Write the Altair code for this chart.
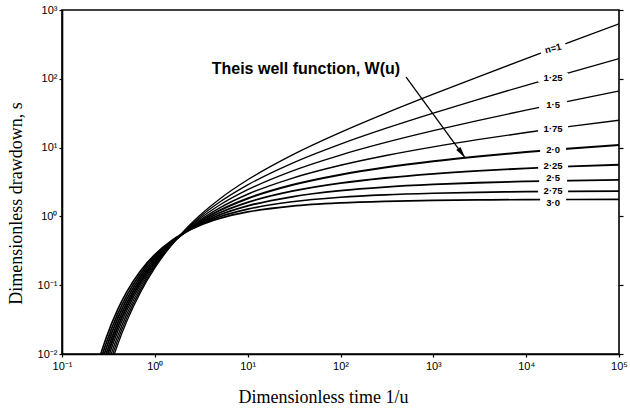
import altair as alt
import numpy as np
import pandas as pd

# ---- data (dimensionless time 1/u, dimensionless drawdown s) ----
time_inv_u = [0.25, 0.3, 0.4, 0.5, 0.7, 1, 1.5, 2, 3, 5, 10, 30, 100, 300, 1000, 3000, 1e4, 3e4, 1e5]

s_n100 = [0.00173, 0.00426, 0.01398, 0.03010, 0.07853, 0.1781, 0.3777, 0.5907, 1.0138, 1.7930, 3.4017, 7.772, 16.65, 31.21, 59.77, 106.03, 196.47, 342.9, 628.9]
s_n125 = [0.00210, 0.00507, 0.01613, 0.03394, 0.08552, 0.1872, 0.3812, 0.5800, 0.9590, 1.6144, 2.8706, 5.912, 11.26, 18.86, 31.77, 49.87, 80.51, 123.5, 196.2]
s_n150 = [0.00256, 0.00603, 0.01863, 0.03830, 0.09325, 0.1970, 0.3861, 0.5713, 0.9086, 1.4619, 2.4437, 4.561, 7.79, 11.77, 17.60, 24.70, 35.10, 47.73, 66.23]
s_n175 = [0.00311, 0.00719, 0.02154, 0.04325, 0.10181, 0.2078, 0.3917, 0.5647, 0.8653, 1.3317, 2.0992, 3.580, 5.53, 7.61, 10.25, 13.05, 16.58, 20.31, 25.02]
s_n200 = [0.00378, 0.00857, 0.02491, 0.04890, 0.1113, 0.2194, 0.3984, 0.5598, 0.8289, 1.2227, 1.8229, 2.857, 4.038, 5.130, 6.332, 7.430, 8.633, 9.732, 10.936]
s_n225 = [0.00460, 0.01023, 0.02884, 0.05533, 0.12183, 0.2322, 0.4065, 0.5570, 0.7975, 1.1297, 1.5997, 2.325, 3.040, 3.613, 4.160, 4.593, 5.004, 5.329, 5.637]
s_n250 = [0.00559, 0.01221, 0.03340, 0.06267, 0.13356, 0.2463, 0.4160, 0.5566, 0.7715, 1.0520, 1.4200, 1.928, 2.363, 2.665, 2.914, 3.085, 3.226, 3.322, 3.401]
s_n275 = [0.00681, 0.01457, 0.03872, 0.07106, 0.14663, 0.2618, 0.4271, 0.5584, 0.7508, 0.9873, 1.2757, 1.632, 1.897, 2.057, 2.170, 2.238, 2.286, 2.315, 2.335]
s_n300 = [0.00829, 0.01741, 0.04493, 0.08065, 0.16124, 0.2788, 0.4399, 0.5624, 0.7342, 0.9342, 1.1605, 1.4115, 1.573, 1.657, 1.709, 1.736, 1.7525, 1.761, 1.766]

flow_dims = [1.0, 1.25, 1.5, 1.75, 2.0, 2.25, 2.5, 2.75, 3.0]
curve_labels = ["n=1", "1·25", "1·5", "1·75", "2·0", "2·25", "2·5", "2·75", "3·0"]
series = [s_n100, s_n125, s_n150, s_n175, s_n200, s_n225, s_n250, s_n275, s_n300]

x_ticks = [0.1, 1, 10, 100, 1000, 10000, 100000]
y_ticks = [0.01, 0.1, 1, 10, 100, 1000]

annotation_text = ["Theis well function, W(u)"]
annotation_x = [4.1]
annotation_y = [140]
arrow_start_x = [509]
arrow_start_y = [106]
arrow_end_x = [2200]

label_time = 19500

# ---- styles ----
line_widths = [1.3, 1.3, 1.3, 1.4, 2.0, 1.8, 1.8, 1.7, 1.7]
box_widths = [26, 30, 28, 30, 26, 30, 28, 30, 26]
label_angles = [346, 0, 0, 0, 0, 0, 0, 0, 0]
label_dy = [0, 0, 0, 0, 0, -1, -2.5, 0, 3]

rows = []
for n, s, w in zip(flow_dims, series, line_widths):
    for x, y in zip(time_inv_u, s):
        rows.append({"n": n, "x": x, "s": y, "w": w})
df = pd.DataFrame(rows)

lx = np.log10(time_inv_u)
label_s = [10 ** np.interp(np.log10(label_time), lx, np.log10(s)) for s in series]
lab_df = pd.DataFrame({
    "x": [label_time] * len(curve_labels),
    "s": label_s,
    "label": curve_labels,
    "box": [b * b for b in box_widths],
    "ang": label_angles,
    "dy": label_dy,
})

end_s = 10 ** np.interp(np.log10(arrow_end_x[0]), lx, np.log10(s_n200))
arrow_df = pd.DataFrame({"x": arrow_start_x, "s": arrow_start_y,
                         "x2": arrow_end_x, "s2": [end_s]})
ann_df = pd.DataFrame({"x": annotation_x, "s": annotation_y, "t": annotation_text})

SUP = str.maketrans("-0123456789", "⁻⁰¹²³⁴⁵⁶⁷⁸⁹")


def label_expr(vals):
    e = "round(log(datum.value)/LN10)"
    parts = []
    for v in vals:
        k = int(round(np.log10(v)))
        parts.append(f"({e} == {k}) ? '10{str(k).translate(SUP)}'")
    return " : ".join(parts) + " : ''"


xscale = alt.Scale(type="log", domain=[0.1, 100000], nice=False)
yscale = alt.Scale(type="log", domain=[0.01, 1000], nice=False)

xaxis = alt.Axis(values=x_ticks, labelExpr=label_expr(x_ticks), labelFlush=False,
                 title="Dimensionless time 1/u", titleFont="Liberation Serif",
                 titleFontSize=18, titleFontWeight="normal", titleX=261, titleY=43,
                 titleBaseline="middle", tickSize=3, labelPadding=3, grid=False)
yaxis = alt.Axis(values=y_ticks, labelExpr=label_expr(y_ticks),
                 title="Dimensionless drawdown, s", titleFont="Liberation Serif",
                 titleFontSize=18, titleFontWeight="normal", titleX=-46, titleY=193,
                 titleAngle=-90, titleBaseline="middle", titleAlign="center",
                 tickSize=3, labelPadding=2, grid=False)
yaxis_right = alt.Axis(orient="right", values=y_ticks, labels=False, title=None,
                       tickSize=4, domain=False, grid=False)


def X(field):
    return alt.X(f"{field}:Q", scale=xscale, axis=xaxis, title="Dimensionless time 1/u")


lines = alt.Chart(df).mark_line(clip=True, interpolate="monotone", color="black").encode(
    x=X("x"),
    y=alt.Y("s:Q", scale=yscale, axis=yaxis),
    detail="n:N",
    strokeWidth=alt.StrokeWidth("w:Q", scale=None),
)

right = alt.Chart(df).mark_line(clip=True, opacity=0).encode(
    x=X("x"),
    y=alt.Y("s:Q", scale=yscale, axis=yaxis_right),
    detail="n:N",
)

BOX = "M-1,-0.3L1,-0.3L1,0.3L-1,0.3Z"
boxes = alt.Chart(lab_df).mark_point(shape=BOX, filled=True, color="white",
                                     opacity=1, strokeWidth=0).encode(
    x=X("x"),
    y=alt.Y("s:Q", scale=yscale, axis=None),
    size=alt.Size("box:Q", scale=None),
    angle=alt.Angle("ang:Q", scale=None),
)

text_layers = []
for d in sorted(set(label_dy)):
    text_layers.append(
        alt.Chart(lab_df).transform_filter(alt.datum.dy == d).mark_text(
            font="Liberation Sans", fontSize=9.5, fontWeight="bold", color="black",
            baseline="middle", align="center", dy=d).encode(
            x=X("x"),
            y=alt.Y("s:Q", scale=yscale, axis=None),
            text="label:N",
            angle=alt.Angle("ang:Q", scale=None),
        )
    )

ann = alt.Chart(ann_df).mark_text(font="Liberation Sans", fontSize=16,
                                  fontWeight="bold", color="black",
                                  align="left", baseline="middle").encode(
    x=X("x"),
    y=alt.Y("s:Q", scale=yscale, axis=None),
    text="t:N",
)

rule = alt.Chart(arrow_df).mark_rule(color="black", strokeWidth=1.3).encode(
    x=X("x"),
    x2="x2:Q",
    y=alt.Y("s:Q", scale=yscale, axis=None),
    y2="s2:Q",
)

ARROW = "M0,0L0.5,2.2L-0.5,2.2Z"
head = alt.Chart(arrow_df).mark_point(shape=ARROW, filled=True, color="black",
                                      opacity=1, size=110, angle=144).encode(
    x=X("x2"),
    y=alt.Y("s2:Q", scale=yscale, axis=None),
)

chart = alt.layer(lines, right, boxes, *text_layers, ann, rule, head).resolve_axis(
    y="independent"
).properties(
    width=557, height=344,
    padding={"left": 62, "top": 10, "right": 11, "bottom": 59},
    autosize=alt.AutoSizeParams(type="none"),
    background="white",
).configure_view(
    stroke="black", strokeWidth=1.6
).configure_axis(
    domainColor="black", domainWidth=1.6, tickColor="black", tickWidth=1.2,
    labelColor="black", labelFont="Liberation Sans", labelFontSize=11,
    titleColor="black",
)

chart.save("out.html", embed_options={"renderer": "svg", "actions": False})
